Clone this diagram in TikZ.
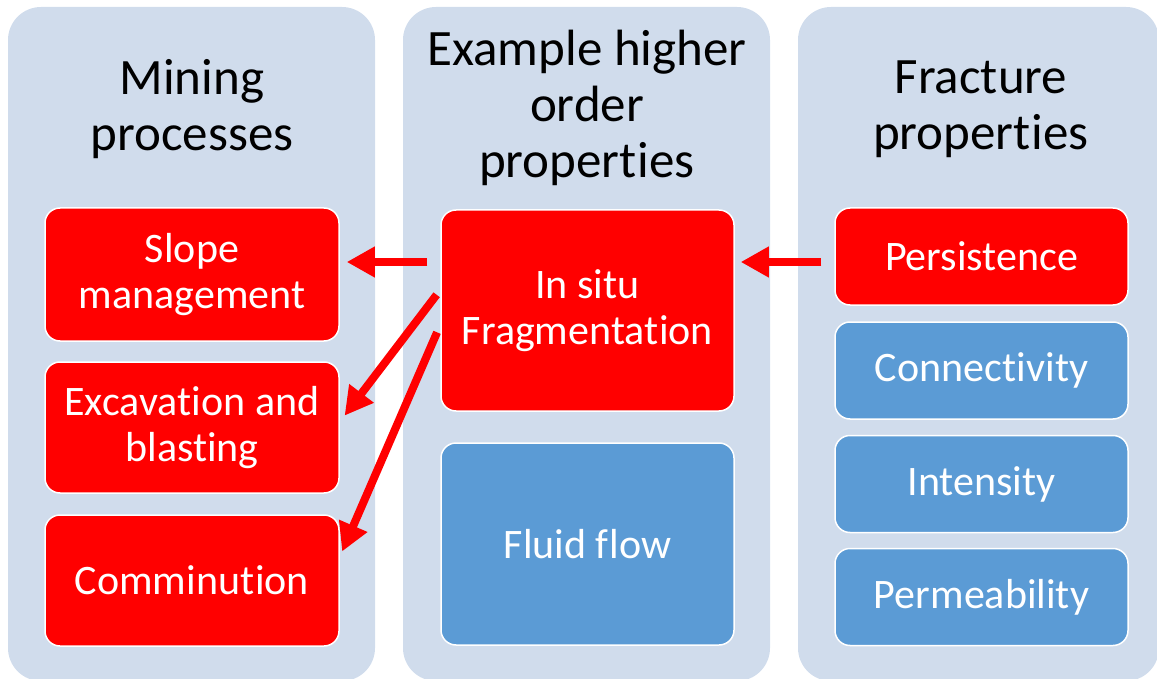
\documentclass[tikz,border=0pt]{standalone}
\usepackage{fontspec}
\setmainfont{Carlito}[Ligatures=NoCommon]
\usetikzlibrary{arrows.meta}
\definecolor{panelbg}{HTML}{D0DCEC}
\definecolor{hotred}{HTML}{FF0000}
\definecolor{softblue}{HTML}{5B9BD5}
% small gap that keeps letter pairs such as "ti" and "fl" apart
\newcommand{\tgap}{\kern0.02em}
\tikzset{
  panel/.style={fill=panelbg, draw=none, rounded corners=33pt},
  paneltitle/.style={align=center, font=\fontsize{51}{56}\selectfont, text=black},
  box/.style={rounded corners=15pt, draw=white, line width=1.5pt, text=white,
    align=center, font=\fontsize{42}{46}\selectfont, inner sep=0pt},
  redbox/.style={box, fill=hotred},
  bluebox/.style={box, fill=softblue},
  link/.style={draw=hotred, line width=8pt, -{Triangle[width=29pt,length=28pt]}}
}
\begin{document}
\begin{tikzpicture}[x=1pt,y=-1pt]
\useasboundingbox (0,0) rectangle (1157,679);
\begin{scope}
\clip (0,0) rectangle (1157,679);
% three column panels
\fill[panel] (8,7) rectangle (375,681);
\fill[panel] (403,7) rectangle (770,681);
\fill[panel] (798,7) rectangle (1159,681);
\end{scope}

% column headings
\node[paneltitle] (tmining) at (192,109) {Mining\\processes};
\node[paneltitle] (thigher) at (587,108) {Example higher\\order\\propert\tgap ies};
\node[paneltitle] (tfract) at (981,109) {Fracture\\propert\tgap ies};

% mining processes
\node[redbox, minimum width=294pt, minimum height=133pt] (slope) at (192,274.5) {Slope\\management};
\node[redbox, minimum width=294pt, minimum height=131pt] (excav) at (192,427.5) {Excavat\tgap ion and\\blasting};
\node[redbox, minimum width=294pt, minimum height=131pt] (commin) at (192,580.5) {Comminut\tgap ion};

% higher order properties
\node[redbox, minimum width=293pt, minimum height=201pt] (insitu) at (587.5,310.5) {In situ\\Fragmentat\tgap ion};
\node[bluebox, minimum width=293pt, minimum height=202pt] (fluid) at (587.5,544) {Fluid f\tgap low};

% fracture properties
\node[redbox, minimum width=293pt, minimum height=97pt] (persist) at (981.5,256.5) {Persistence};
\node[bluebox, minimum width=293pt, minimum height=97pt] (connect) at (981.5,370.5) {Connect\tgap ivity};
\node[bluebox, minimum width=293pt, minimum height=97pt] (intens) at (981.5,484) {Intensity};
\node[bluebox, minimum width=293pt, minimum height=97pt] (perm) at (981.5,597) {Permeability};

% influence arrows
\draw[link, shorten <=13pt, shorten >=7pt] ([yshift=48.5pt]insitu.west) -- ([yshift=12.5pt]slope.east);
\draw[link, shorten <=6pt, shorten >=8pt] ([yshift=20.5pt]insitu.west) -- ([yshift=5.5pt]excav.east);
\draw[link, shorten <=8pt, shorten >=6pt] ([yshift=-14.5pt]insitu.west) -- ([yshift=23.5pt]commin.east);
\draw[link, shorten <=13pt, shorten >=6pt] ([yshift=-5.5pt]persist.west) -- ([yshift=48.5pt]insitu.east);
\end{tikzpicture}
\end{document}
